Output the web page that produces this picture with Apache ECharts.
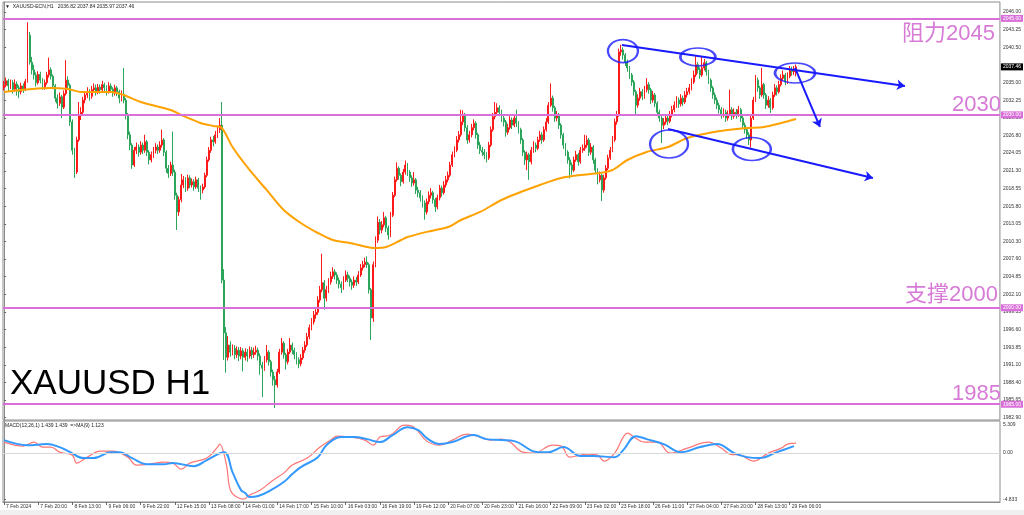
<!DOCTYPE html>
<html><head><meta charset="utf-8">
<script src="https://cdn.jsdelivr.net/npm/echarts@6/dist/echarts.min.js"></script>
<style>html,body{margin:0;padding:0;background:#fff}#c{width:1024px;height:515px}</style>
</head><body><div id="c"></div>
<script>
// ---------------- DATA ----------------
const tickLabels = ['7 Feb 2024','7 Feb 20:00','8 Feb 13:00','9 Feb 06:00','9 Feb 22:00','12 Feb 15:00','13 Feb 08:00','14 Feb 01:00','14 Feb 17:00','15 Feb 10:00','16 Feb 03:00','16 Feb 19:00','19 Feb 12:00','20 Feb 07:00','20 Feb 23:00','21 Feb 16:00','22 Feb 09:00','23 Feb 02:00','23 Feb 18:00','26 Feb 11:00','27 Feb 04:00','27 Feb 20:00','28 Feb 13:00','29 Feb 06:00'];
const barsPerLabel = 16;
const priceTicks = [2046.00,2043.25,2040.50,2035.00,2032.25,2029.50,2026.80,2024.05,2021.30,2018.55,2015.80,2013.05,2010.30,2007.60,2004.85,2002.10,1999.35,1996.60,1993.85,1991.10,1988.40,1985.65,1982.90];
const levels = [2045, 2030, 2000, 1985];
const levelTexts = ['阻力2045','2030','支撑2000','1985'];
const lastPrice = 2037.46;
const macdTicks = [0, -4.833];
const macdTopLabel = '5.309';

const firstOpen = 2034.2;
const closes = [
2034.6,2035.3,2034.5,2035.0,2034.0,2034.8,2034.2,2033.6,2034.5,2034.0,2035.2,
2042.4,2038.2,2037.0,2036.2,2035.0,2036.3,2035.4,2034.3,2035.0,2036.2,
2037.0,2036.0,2034.5,2032.6,2031.8,2032.8,2031.2,2033.3,2035.4,2034.6,
2028.9,2024.5,2021.1,2026.1,2030.0,2030.4,2032.3,2033.1,2033.6,2032.9,
2033.9,2034.2,2033.6,2034.3,2033.9,2034.7,2034.2,2033.7,2034.5,2034.0,
2033.4,2034.2,2033.6,2032.6,2033.2,2032.3,2030.0,2026.9,2025.3,2022.2,
2024.5,2025.0,2024.2,2025.3,2024.5,2025.8,2024.2,2023.0,2023.8,2024.5,
2025.0,2024.5,2025.3,2026.1,2024.2,2021.7,2020.9,2022.2,2021.1,2017.5,
2014.9,2016.8,2019.1,2019.9,2018.6,2020.2,2019.1,2019.6,2018.8,2019.9,
2018.6,2018.3,2018.8,2020.6,2023.0,2024.5,2026.1,2025.8,2026.9,2027.7,
2028.4,2004.3,1996.1,1992.3,1994.2,1993.1,1993.7,1992.7,1993.4,1992.5,
1993.3,1992.3,1993.1,1992.5,1993.4,1992.7,1993.1,1993.4,1992.5,1991.1,
1990.6,1991.9,1993.1,1991.6,1990.0,1988.8,1988.0,1990.0,1993.1,1994.5,
1992.7,1991.6,1993.1,1994.2,1993.4,1992.7,1991.9,1991.3,1992.2,1993.4,
1994.2,1995.5,1996.9,1997.8,1998.9,1999.3,2001.2,2002.8,2003.9,2001.5,
2002.8,2004.0,2004.9,2005.6,2005.1,2004.3,2003.7,2003.1,2004.3,2005.1,
2004.6,2004.0,2003.5,2004.3,2004.0,2005.1,2006.2,2006.7,2007.1,2006.7,
2002.8,1998.4,2006.7,2010.5,2013.3,2012.1,2012.9,2014.0,2012.4,2011.3,
2014.4,2017.5,2019.9,2021.7,2020.6,2019.6,2021.1,2022.2,2021.1,2020.2,
2019.4,2019.9,2018.3,2017.9,2017.1,2016.3,2014.9,2016.5,2017.5,2017.9,
2016.8,2015.7,2017.1,2018.6,2017.9,2019.1,2019.9,2020.6,2022.2,2023.8,
2024.5,2026.1,2026.9,2028.9,2030.0,2028.0,2026.1,2026.9,2028.0,2028.7,
2026.9,2025.3,2024.5,2024.2,2023.8,2023.3,2025.3,2027.7,2029.7,2030.4,
2031.1,2030.4,2029.5,2028.9,2027.3,2028.0,2029.2,2028.4,2029.5,2028.7,
2027.7,2026.1,2024.2,2023.0,2023.8,2022.7,2024.5,2025.3,2024.8,2026.1,
2026.9,2026.1,2027.7,2028.9,2031.5,2032.6,2031.1,2029.5,2030.0,2028.4,
2026.9,2025.3,2024.2,2023.0,2022.2,2021.4,2023.0,2023.8,2022.7,2024.5,
2024.8,2025.3,2026.1,2024.2,2025.0,2023.0,2021.4,2019.9,2020.6,2018.3,
2020.2,2021.7,2023.3,2024.5,2026.1,2028.9,2030.0,2039.8,2040.1,2039.3,
2038.2,2037.3,2036.2,2035.1,2033.6,2031.5,2032.6,2033.6,2032.9,2033.9,
2034.7,2033.9,2032.3,2033.1,2031.8,2030.4,2029.5,2028.4,2028.9,2029.5,
2029.0,2030.0,2030.8,2031.5,2032.3,2031.7,2032.6,2032.0,2033.1,2033.6,
2034.2,2035.1,2036.2,2037.8,2037.0,2036.2,2037.3,2038.1,2036.7,2035.4,
2034.2,2033.1,2032.3,2031.5,2030.8,2030.0,2030.4,2029.5,2030.1,2030.8,
2029.8,2030.4,2030.0,2030.8,2029.5,2028.4,2027.7,2026.9,2026.1,2029.5,
2032.3,2035.4,2034.2,2033.1,2034.7,2033.1,2031.5,2032.3,2031.1,2033.1,
2034.2,2033.6,2034.7,2035.7,2036.2,2035.1,2036.0,2037.0,2036.7,2036.82,2037.46
];
const highs = [
2035.3,2035.8,2035.6,2035.5,2035.4,2035.5,2035.2,2034.6,2035.0,2034.9,2035.6,
2044.4,2042.9,2039.0,2037.8,2036.6,2036.8,2036.7,2035.7,2035.5,2036.7,
2038.9,2037.4,2036.3,2034.8,2033.2,2033.5,2033.1,2033.8,2038.5,2036.0,
2034.9,2029.3,2024.9,2026.6,2032.0,2031.2,2032.8,2033.7,2034.3,2034.0,
2034.5,2034.9,2034.7,2034.8,2034.7,2035.3,2035.0,2034.6,2035.1,2034.9,
2034.3,2034.7,2034.5,2033.9,2033.8,2037.3,2032.6,2030.3,2027.4,2025.6,
2025.0,2025.7,2025.4,2025.9,2025.7,2026.9,2026.1,2024.5,2024.3,2025.0,
2025.6,2025.4,2025.9,2027.7,2026.4,2024.5,2022.2,2022.7,2027.4,2021.5,
2017.9,2017.3,2020.8,2020.5,2020.3,2020.7,2020.6,2020.1,2020.0,2020.4,
2020.2,2019.0,2019.3,2021.0,2023.5,2025.0,2026.6,2026.7,2027.5,2028.3,
2029.5,2032.0,2006.0,1997.0,1995.6,1994.8,1994.3,1994.2,1994.0,1993.9,
1993.9,1993.7,1993.7,1993.6,1994.0,1993.9,1993.8,1994.1,1993.8,1992.9,
1991.6,1992.5,1994.2,1993.4,1991.9,1990.4,1989.4,1990.5,1993.6,1995.3,
1994.8,1993.0,1993.6,1995.3,1994.6,1993.8,1993.1,1992.3,1992.8,1993.9,
1994.8,1996.1,1997.4,1998.4,1999.5,2000.0,2001.8,2003.4,2008.4,2004.3,
2003.4,2004.6,2005.6,2006.3,2006.0,2005.5,2004.7,2004.1,2004.9,2005.8,
2005.6,2005.0,2004.4,2004.9,2004.8,2005.7,2006.8,2007.3,2007.8,2008.0,
2007.0,2003.1,2007.2,2011.1,2014.2,2013.8,2013.5,2014.9,2014.3,2012.8,
2014.9,2018.0,2020.4,2022.6,2022.0,2020.9,2021.6,2022.9,2022.5,2021.4,
2020.6,2021.1,2020.2,2018.8,2018.3,2017.5,2016.7,2017.0,2018.1,2018.6,
2018.2,2017.1,2017.6,2019.1,2019.0,2019.7,2020.5,2021.2,2022.7,2024.3,
2025.1,2026.7,2027.5,2030.8,2030.7,2030.3,2028.4,2027.5,2028.6,2029.3,
2029.0,2027.2,2025.8,2025.0,2024.7,2024.2,2025.8,2028.2,2030.3,2032.0,
2031.8,2031.5,2030.8,2029.9,2029.2,2028.6,2029.8,2029.6,2030.1,2030.8,
2029.0,2028.0,2026.4,2024.5,2024.3,2024.1,2025.0,2025.9,2025.7,2026.6,
2027.5,2027.3,2028.2,2029.5,2032.0,2034.9,2033.0,2031.4,2030.6,2030.3,
2028.7,2027.2,2025.6,2024.5,2023.4,2022.6,2023.5,2024.4,2024.1,2025.0,
2025.4,2026.9,2026.8,2026.4,2025.6,2025.3,2023.3,2021.7,2021.2,2020.9,
2020.7,2022.2,2023.8,2025.0,2026.7,2029.4,2030.6,2040.3,2040.9,2040.5,
2039.6,2038.6,2037.6,2036.5,2035.4,2033.9,2033.2,2034.2,2034.0,2034.5,
2035.7,2035.1,2034.2,2033.7,2033.4,2032.1,2030.8,2029.8,2029.5,2030.1,
2029.9,2030.6,2031.4,2032.1,2032.9,2032.7,2033.2,2033.0,2033.7,2034.2,
2034.8,2035.7,2036.9,2039.1,2038.2,2037.4,2039.0,2038.7,2038.4,2037.0,
2035.7,2034.5,2033.5,2032.7,2031.9,2031.2,2031.0,2030.8,2030.7,2033.9,
2031.2,2031.0,2030.9,2031.4,2031.1,2029.8,2028.8,2028.1,2027.3,2030.0,
2032.8,2036.2,2035.8,2034.5,2037.3,2035.0,2033.4,2032.9,2032.6,2033.6,
2034.8,2034.6,2035.3,2036.3,2036.9,2036.5,2036.6,2037.6,2037.5,2037.6,2037.84
];
const lows = [
2033.8,2034.3,2033.7,2034.0,2033.3,2033.6,2033.0,2032.6,2033.2,2033.4,2033.7,
2035.0,2037.8,2036.3,2035.5,2034.4,2034.7,2034.9,2033.9,2033.9,2034.7,
2035.8,2035.5,2034.0,2032.0,2031.0,2031.4,2029.5,2030.9,2033.0,2033.9,
2028.3,2023.8,2020.2,2020.8,2025.8,2029.2,2030.0,2031.8,2032.6,2032.2,
2032.5,2033.4,2033.0,2033.2,2033.3,2033.5,2033.7,2033.0,2033.3,2033.5,
2032.8,2033.0,2032.9,2031.8,2032.1,2031.8,2029.3,2026.2,2024.5,2021.6,
2021.9,2023.9,2023.5,2023.8,2023.9,2024.1,2023.6,2022.3,2022.6,2023.3,
2024.0,2023.9,2024.1,2024.9,2023.6,2021.0,2020.2,2020.5,2020.5,2016.8,
2012.1,2014.3,2016.4,2018.6,2018.0,2018.2,2018.6,2018.7,2018.2,2018.5,
2018.0,2016.8,2017.8,2018.5,2020.3,2022.7,2024.1,2025.1,2025.5,2026.4,
2027.2,2003.8,1991.9,1989.9,1991.8,1992.4,1992.6,1992.0,1992.2,1991.7,
1992.0,1990.1,1991.8,1991.6,1992.1,1992.0,1992.2,1992.7,1991.8,1989.6,
1986.1,1990.2,1991.5,1991.0,1989.3,1987.9,1984.4,1987.6,1989.7,1992.7,
1992.1,1990.4,1991.2,1992.8,1992.8,1992.0,1991.2,1990.6,1990.9,1991.9,
1993.0,1993.9,1995.1,1996.5,1997.4,1998.3,1998.9,2000.8,2002.4,1999.7,
2001.0,2002.3,2003.6,2004.5,2004.4,2003.7,2003.0,2002.3,2002.8,2004.0,
2004.0,2003.3,2002.8,2003.1,2003.4,2003.7,2004.8,2005.8,2006.3,2006.2,
2002.2,1995.0,1997.8,2006.3,2010.1,2011.4,2011.6,2012.5,2011.8,2010.6,
2011.0,2014.1,2017.2,2019.6,2019.9,2018.9,2019.3,2020.7,2020.5,2019.6,
2018.8,2019.0,2017.7,2017.2,2016.5,2015.6,2013.7,2014.5,2016.1,2017.0,
2016.2,2014.9,2015.3,2016.7,2017.3,2017.6,2018.7,2019.5,2020.3,2021.9,
2023.4,2024.2,2025.7,2026.6,2028.4,2027.4,2025.5,2025.7,2026.5,2027.6,
2026.3,2024.7,2023.9,2023.6,2023.1,2022.6,2023.0,2025.0,2027.4,2029.3,
2030.0,2029.8,2028.9,2028.2,2026.6,2026.9,2027.7,2027.8,2028.1,2028.1,
2027.1,2025.5,2023.6,2022.2,2021.4,2019.9,2022.3,2024.1,2024.2,2024.5,
2025.8,2025.5,2025.8,2027.4,2028.6,2031.2,2030.5,2028.9,2029.0,2027.8,
2026.3,2024.7,2023.6,2022.4,2020.1,2020.7,2021.1,2022.7,2022.1,2022.4,
2024.1,2024.4,2024.9,2023.6,2023.8,2022.4,2020.8,2019.2,2019.5,2016.6,
2017.9,2019.9,2021.4,2023.0,2024.2,2025.8,2028.5,2029.7,2039.2,2038.6,
2037.6,2036.7,2035.6,2034.5,2033.0,2030.0,2031.1,2032.2,2032.3,2032.5,
2033.5,2033.3,2031.7,2031.9,2031.2,2029.8,2028.9,2025.6,2027.8,2028.5,
2028.4,2028.7,2029.6,2030.4,2031.1,2031.1,2031.3,2031.4,2031.7,2032.7,
2033.2,2033.8,2034.8,2035.9,2036.4,2035.6,2035.9,2036.9,2036.1,2034.8,
2033.6,2032.5,2031.7,2030.9,2030.2,2029.4,2029.6,2028.9,2029.1,2029.8,
2029.2,2029.4,2029.4,2029.7,2028.9,2027.8,2027.1,2026.3,2025.3,2024.9,
2029.2,2032.0,2033.6,2032.5,2032.8,2032.5,2030.9,2031.1,2030.3,2030.8,
2032.8,2033.0,2033.3,2034.4,2035.3,2034.6,2034.8,2035.7,2036.1,2036.2,2035.97
];
// moving average [bar index, price]
const maLine = [[0,2033.56],[22,2034.18],[30,2034.02],[36,2033.56],[50,2033.56],[56,2033.09],[64,2032.0],[78,2030.76],[83,2029.98],[92,2028.74],[98,2028.27],[102,2027.96],[107,2025.0],[115,2021.43],[123,2018.32],[131,2015.21],[139,2013.19],[147,2011.63],[154,2010.54],[162,2010.07],[170,2009.45],[173,2009.3],[179,2009.45],[186,2010.54],[189,2011.0],[198,2011.8],[208,2012.56],[214,2013.65],[223,2014.9],[233,2016.76],[242,2018.0],[251,2019.1],[261,2020.18],[270,2020.65],[279,2020.96],[285,2021.43],[292,2022.98],[301,2024.23],[311,2025.0],[320,2026.4],[330,2027.18],[339,2027.65],[348,2027.96],[356,2028.12],[364,2028.74],[371,2029.36]];
// MACD main (red) and signal MA (blue) [bar index, value]
const macdMain = [[0,1.15],[9,0.73],[14,1.15],[18,0.63],[22,0.63],[26,0.10],[32,-0.21],[34,-1.04],[39,-0.42],[45,0.21],[51,0.21],[58,-0.42],[62,-1.25],[68,-1.15],[75,-0.94],[79,-1.04],[83,-1.67],[87,-1.04],[95,-0.52],[100,0.63],[101,0.94],[104,-1.04],[106,-3.86],[109,-4.59],[112,-4.80],[115,-4.38],[120,-3.86],[126,-2.82],[131,-2.09],[135,-1.25],[142,-0.52],[148,0.63],[153,1.36],[156,1.77],[162,1.67],[169,1.36],[173,0.83],[176,1.67],[181,1.88],[186,2.82],[188,2.92],[192,2.71],[198,1.25],[204,0.83],[210,1.36],[217,1.98],[223,1.67],[228,1.36],[233,1.46],[237,1.15],[243,0.10],[248,0.0],[257,0.83],[261,0.73],[265,-0.42],[273,-0.10],[278,-0.21],[281,-0.83],[286,0.0],[290,1.67],[292,2.09],[295,1.67],[300,1.15],[306,1.15],[312,0.0],[320,0.52],[330,1.15],[336,0.52],[340,-0.10],[345,-0.21],[351,-0.83],[358,0.0],[364,0.52],[367,0.94],[371,1.04]];
const macdSignal = [[0,1.36],[11,0.83],[20,0.94],[26,0.63],[31,0.10],[37,-0.52],[42,-0.52],[50,0.10],[54,0.10],[60,-0.52],[67,-1.15],[75,-1.15],[79,-1.04],[89,-1.36],[95,-0.73],[103,0.10],[107,-1.98],[111,-3.86],[113,-4.17],[115,-4.59],[119,-4.48],[125,-3.86],[131,-3.02],[135,-2.19],[139,-1.46],[147,-0.42],[151,0.83],[158,1.67],[164,1.67],[170,1.46],[176,1.15],[182,1.88],[189,2.71],[194,2.40],[198,1.56],[204,0.94],[210,1.15],[220,1.88],[226,1.46],[233,1.36],[239,1.25],[250,0.10],[255,0.10],[262,0.63],[270,-0.31],[276,-0.31],[286,-0.42],[290,0.31],[296,1.77],[301,1.46],[309,0.94],[317,0.10],[326,0.63],[334,0.94],[342,0.0],[348,-0.42],[354,-0.52],[362,0.10],[370,0.73]];
// blue hand-drawn annotations [bar index, price]
const circleCenters = [[289.9,2039.93],[325.0,2039.0],[370.5,2036.51],[311.5,2025.47],[350.3,2024.69]];
const trendLines = [
  [[289.4,2040.87],[422.0,2034.49]],
  [[311.0,2027.80],[407.0,2020.18]],
  [[370.5,2037.29],[382.2,2028.12]]
];

// ---------------- STYLE / LAYOUT ----------------
const SLOTS = 467;
const circleSizes = [[30,23],[35,18],[40,20],[38,28],[38,23]];
const levelTextPos = ['insideEndBottom','insideEndTop','insideEndTop','insideEndTop'];
const levelTextGap = [5, -1, 2, -1];
const SMALL = "'Liberation Sans', Arial, sans-serif";
const FONT = "'Liberation Sans', Arial, 'Noto Sans CJK SC', sans-serif";
const PINK = '#d96fd9';
const PINKTXT = '#d77bd7';
const BLUE = '#1a1aff';
const FRAME = '#8c8c8c';
const NOLINE = 'rgba(0,0,0,0)';

const cats = [];
for (let i = 0; i < SLOTS; i++) cats.push(String(i));
const candles = closes.map((c, i) => [i ? closes[i - 1] : firstOpen, c, lows[i], highs[i]]);
const tickIdx = tickLabels.map((_, k) => k * barsPerLabel);
const n = closes.length - 1;
const headerText = '▼  XAUUSD-ECN,H1   ' + [closes[n - 1], highs[n], lows[n], closes[n]].map(v => v.toFixed(2)).join(' ');

const levelMarks = [];
levels.forEach((v, k) => {
  levelMarks.push({ yAxis: v, label: { formatter: v.toFixed(2) } });
  levelMarks.push({ yAxis: v, lineStyle: { color: NOLINE, width: 0 },
    label: { position: levelTextPos[k], formatter: levelTexts[k], fontSize: 22, color: PINKTXT,
      fontFamily: FONT, backgroundColor: NOLINE, padding: 0, distance: levelTextGap[k] } });
});
levelMarks.push({ yAxis: lastPrice, lineStyle: { color: NOLINE, width: 0 },
  label: { formatter: lastPrice.toFixed(2), backgroundColor: '#000', color: '#fff' } });

const chart = echarts.init(document.getElementById('c'), null, { renderer: 'canvas' });
chart.setOption({
  animation: false,
  backgroundColor: '#fff',
  grid: [
    { left: 3, top: 2, width: 997, height: 418, show: true, borderColor: FRAME, borderWidth: 1 },
    { left: 3, top: 421, width: 997, height: 81, show: true, borderColor: FRAME, borderWidth: 1 }
  ],
  xAxis: [
    { type: 'category', gridIndex: 0, data: cats, boundaryGap: true,
      axisLine: { show: false }, axisTick: { show: false }, axisLabel: { show: false }, splitLine: { show: false } },
    { type: 'value', gridIndex: 0, min: -0.5, max: SLOTS - 0.5, show: false, splitLine: { show: false } },
    { type: 'value', gridIndex: 1, min: -0.5, max: SLOTS - 0.5, position: 'bottom',
      axisLine: { show: true, onZero: false, lineStyle: { color: FRAME } },
      axisTick: { show: true, customValues: tickIdx, length: 3, lineStyle: { color: '#666' } },
      axisLabel: { customValues: tickIdx, formatter: v => tickLabels[Math.round(v / barsPerLabel)] || '',
        fontSize: 5, color: '#333', fontFamily: SMALL, align: 'left', margin: 2, padding: [0, 0, 0, 2] },
      splitLine: { show: false } }
  ],
  yAxis: [
    { type: 'value', gridIndex: 0, position: 'right', min: 1982.55, max: 2047.55,
      axisLine: { show: true, lineStyle: { color: FRAME } },
      axisTick: { show: true, customValues: priceTicks, length: 2, lineStyle: { color: '#666' } },
      axisLabel: { customValues: priceTicks, formatter: v => v.toFixed(2), fontSize: 5, color: '#333', fontFamily: SMALL, margin: 3 },
      splitLine: { show: false } },
    { type: 'value', gridIndex: 1, position: 'right', min: -5.1, max: 3.35,
      axisLine: { show: true, lineStyle: { color: FRAME } },
      axisTick: { show: true, customValues: macdTicks, length: 2, lineStyle: { color: '#666' } },
      axisLabel: { customValues: macdTicks, formatter: v => v === 0 ? '0.00' : v.toFixed(3), fontSize: 5, color: '#333', fontFamily: SMALL, margin: 3 },
      splitLine: { show: false } }
  ],
  series: [
    { type: 'candlestick', xAxisIndex: 0, yAxisIndex: 0, data: candles, barWidth: 1.4,
      itemStyle: { color: '#ff1a1a', color0: '#2aa55a', borderColor: '#ff1a1a', borderColor0: '#2aa55a', borderWidth: 1 },
      markLine: { silent: true, symbol: ['none', 'none'], animation: false,
        lineStyle: { color: PINK, width: 2, type: 'solid' },
        label: { position: 'end', distance: 1, fontSize: 5, fontFamily: SMALL, color: '#fff', backgroundColor: PINK, padding: [1, 2] },
        data: levelMarks } },
    { type: 'line', xAxisIndex: 1, yAxisIndex: 0, data: maLine, smooth: 0.3, symbol: 'none',
      lineStyle: { color: '#ffa200', width: 2 }, z: 3 },
    { type: 'lines', coordinateSystem: 'cartesian2d', xAxisIndex: 1, yAxisIndex: 0,
      symbol: ['none', 'arrow'], symbolSize: 8,
      lineStyle: { color: BLUE, width: 2, opacity: 1 },
      data: trendLines.map(c => ({ coords: c })), z: 5 },
    { type: 'scatter', xAxisIndex: 1, yAxisIndex: 0, symbol: 'circle',
      data: circleCenters.map((c, k) => ({ value: c, symbolSize: circleSizes[k] })),
      itemStyle: { color: 'rgba(0,0,0,0)', borderColor: BLUE, borderWidth: 2 }, z: 5 },
    { type: 'line', xAxisIndex: 2, yAxisIndex: 1, data: macdMain, smooth: 0.4, symbol: 'none',
      lineStyle: { color: '#ff7575', width: 1.2 },
      markLine: { silent: true, symbol: ['none', 'none'], label: { show: false },
        lineStyle: { color: '#d8d8d8', width: 1, type: 'solid' }, data: [{ yAxis: 0 }] } },
    { type: 'line', xAxisIndex: 2, yAxisIndex: 1, data: macdSignal, smooth: 0.4, symbol: 'none',
      lineStyle: { color: '#3399ff', width: 2 } }
  ],
  graphic: [
    { type: 'rect', left: 0, top: 510, shape: { width: 1024, height: 5 }, style: { fill: '#f0f0f0' }, z: -1 },
    { type: 'text', x: 5, y: 7, style: { text: headerText, fontSize: 5, fontFamily: SMALL, fill: '#222', verticalAlign: 'middle' } },
    { type: 'text', x: 5, y: 426, style: { text: 'MACD(12,26,1) 1.439 1.439  =>MA(9) 1.123', fontSize: 5, fontFamily: SMALL, fill: '#222', verticalAlign: 'middle' } },
    { type: 'text', x: 1003, y: 425, style: { text: macdTopLabel, fontSize: 5, fontFamily: SMALL, fill: '#333', verticalAlign: 'middle' } },
    { type: 'text', x: 10, y: 384, style: { text: 'XAUUSD H1', fontSize: 35, fontFamily: FONT, fill: '#000', verticalAlign: 'middle' } }
  ]
});
</script></body></html>
